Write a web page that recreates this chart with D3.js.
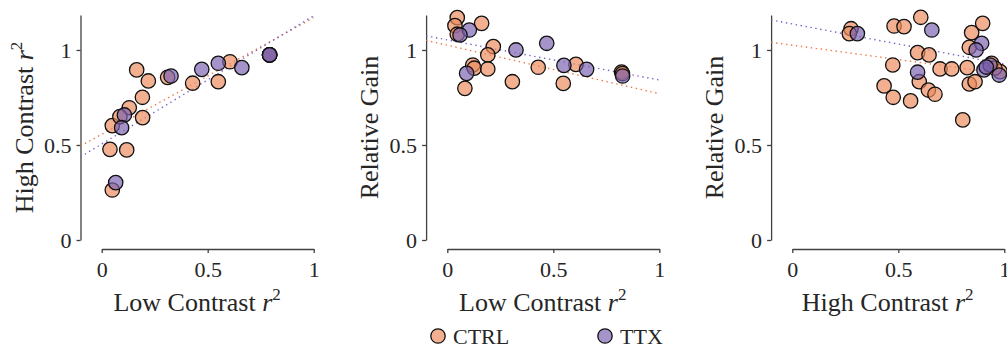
<!DOCTYPE html>
<html>
<head>
<meta charset="utf-8">
<script src="https://cdn.jsdelivr.net/npm/d3@7"></script>
<style>
  body { margin: 0; background: #fff; }
  text { font-family: "Liberation Serif", "Times New Roman", serif; fill: #262626; }
</style>
</head>
<body>
<svg id="fig" width="1007" height="347"></svg>
<script>
// ---- data ----
// panel A: low contrast r^2 (x) vs high contrast r^2 (y)
let aCtrl = [[0.165, 0.895], [0.220, 0.837], [0.192, 0.751], [0.130, 0.696], [0.193, 0.644],
    [0.050, 0.602], [0.039, 0.477], [0.118, 0.474], [0.050, 0.263], [0.311, 0.856],
    [0.429, 0.825], [0.550, 0.833], [0.086, 0.649], [0.605, 0.938], [0.792, 0.974], [0.792, 0.974]];
let aTtx = [[0.327, 0.863], [0.472, 0.898], [0.550, 0.930], [0.107, 0.658], [0.094, 0.591],
    [0.066, 0.302], [0.661, 0.907], [0.792, 0.974], [0.792, 0.974]];

// panel B: low contrast r^2 (x) vs relative gain (y)
let bCtrl = [[0.047, 1.170], [0.036, 1.128], [0.047, 1.083], [0.162, 1.140], [0.217, 1.018],
    [0.191, 0.974], [0.120, 0.921], [0.127, 0.904], [0.191, 0.900], [0.083, 0.798],
    [0.307, 0.833], [0.429, 0.909], [0.607, 0.924], [0.547, 0.824], [0.822, 0.884], [0.826, 0.876]];
let bTtx = [[0.104, 1.105], [0.060, 1.079], [0.324, 1.000], [0.469, 1.035], [0.091, 0.877],
    [0.550, 0.919], [0.657, 0.898], [0.827, 0.863]];

// panel C: high contrast r^2 (x) vs relative gain (y)
let cCtrl = [[0.277, 1.112], [0.269, 1.086], [0.606, 1.172], [0.480, 1.126], [0.527, 1.123],
    [0.591, 0.986], [0.645, 0.974], [0.474, 0.921], [0.433, 0.811], [0.476, 0.751],
    [0.558, 0.732], [0.599, 0.833], [0.642, 0.789], [0.673, 0.767], [0.697, 0.900],
    [0.752, 0.900], [0.825, 0.907], [0.804, 0.632], [0.846, 1.091], [0.898, 1.140],
    [0.835, 1.014], [0.835, 0.821], [0.862, 0.833], [0.940, 0.930], [0.980, 0.886], [0.955, 0.905]];
let cTtx = [[0.307, 1.086], [0.658, 1.105], [0.591, 0.883], [0.893, 1.035], [0.867, 1.000],
    [0.904, 0.895], [0.933, 0.921], [0.976, 0.868], [0.915, 0.910]];

// dotted regression lines, [intercept, slope]
let aFit = { ctrl: [0.556, 0.614], ttx: [0.505, 0.675] };
let bFit = { ctrl: [1.025, -0.255], ttx: [1.053, -0.211] };
let cFit = { ctrl: [1.025, -0.151], ttx: [1.137, -0.212] };

let xTicks = [0, 0.5, 1];
let yTicks = [0, 0.5, 1];
let groups = ['CTRL', 'TTX'];

// ---- layout ----
let svg = d3.select('#fig');
let fill = { CTRL: '#ee8a5c', TTX: '#7a62b0' };
let lineCol = { CTRL: '#f07844', TTX: '#7a62c8' };
let axisCol = '#404040';

let panels = [
    { left: 101.7, ctrl: aCtrl, ttx: aTtx, fit: aFit, xlab: 'Low Contrast ', ylab: 'High Contrast ', ysup: true },
    { left: 447.3, ctrl: bCtrl, ttx: bTtx, fit: bFit, xlab: 'Low Contrast ', ylab: 'Relative Gain', ysup: false },
    { left: 792.3, ctrl: cCtrl, ttx: cTtx, fit: cFit, xlab: 'High Contrast ', ylab: 'Relative Gain', ysup: false }
];

let fmt = d => (d === 0.5 ? '0.5' : String(d));

panels.forEach((p, i) => {
    let x = d3.scaleLinear().domain([-0.1, 1]).range([p.left - 21.2, p.left + 212]);
    let y = d3.scaleLinear().domain([0, 1.184]).range([240, 15]);
    let g = svg.append('g');

    // x axis (only spans 0..1, sits below the plot)
    let xa = x.copy().domain([0, 1]).range([x(0), x(1)]);
    let gx = g.append('g')
        .attr('transform', 'translate(0,249)')
        .call(d3.axisBottom(xa).tickValues(xTicks).tickFormat(fmt).tickSize(4).tickSizeOuter(0));

    let gy = g.append('g')
        .attr('transform', 'translate(' + x(-0.1) + ',0)')
        .call(d3.axisLeft(y).tickValues(yTicks).tickFormat(fmt).tickSize(4).tickSizeOuter(0));

    [gx, gy].forEach(a => {
        a.attr('font-family', '"Liberation Serif", serif').attr('font-size', 22);
        a.select('.domain').attr('stroke', axisCol).attr('stroke-width', 1.3);
        a.selectAll('.tick line').attr('stroke', axisCol).attr('stroke-width', 1.3);
        a.selectAll('.tick text').attr('fill', '#262626');
    });
    gx.selectAll('.tick text').attr('y', 12);
    gy.selectAll('.tick text').attr('x', -9).attr('dy', '0.33em');

    // axis labels
    let xl = g.append('text')
        .attr('x', x(0.45))
        .attr('y', 311)
        .attr('text-anchor', 'middle')
        .style('font-size', '26px')
        .text(p.xlab);
    xl.append('tspan').style('font-style', 'italic').text('r');
    xl.append('tspan').attr('dy', -11).style('font-size', '17px').text('2');

    let yl = g.append('text')
        .attr('transform', 'translate(' + (x(-0.1) - 48) + ',' + y(0.592) + ') rotate(-90)')
        .attr('text-anchor', 'middle')
        .style('font-size', '26px')
        .text(p.ylab);
    if (p.ysup) {
        yl.append('tspan').style('font-style', 'italic').text('r');
        yl.append('tspan').attr('dy', -11).style('font-size', '17px').text('2');
    }

    // regression lines
    let clipId = 'clip' + i;
    svg.append('clipPath').attr('id', clipId)
        .append('rect')
        .attr('x', x(-0.1)).attr('y', y(1.184))
        .attr('width', x(1) - x(-0.1)).attr('height', y(0) - y(1.184));

    let line = d3.line().x(d => x(d[0])).y(d => y(d[1]));
    groups.forEach(k => {
        let c = k === 'CTRL' ? p.fit.ctrl : p.fit.ttx;
        let pts = [-0.1, 1].map(v => [v, c[0] + c[1] * v]);
        g.append('path')
            .datum(pts)
            .attr('clip-path', 'url(#' + clipId + ')')
            .attr('d', line)
            .attr('fill', 'none')
            .attr('stroke', lineCol[k])
            .attr('stroke-width', 1.4)
            .attr('stroke-dasharray', '1.4,3.6');
    });

    // markers: CTRL first, TTX on top
    groups.forEach(k => {
        g.append('g')
            .selectAll('circle')
            .data(k === 'CTRL' ? p.ctrl : p.ttx)
            .enter()
            .append('circle')
            .attr('cx', d => x(d[0]))
            .attr('cy', d => y(d[1]))
            .attr('r', 7.2)
            .attr('fill', fill[k])
            .attr('fill-opacity', 0.68)
            .attr('stroke', '#111')
            .attr('stroke-width', 1.3);
    });
});

// legend
let leg = svg.append('g');
groups.forEach((k, i) => {
    let lx = 438 + i * 167;
    leg.append('circle')
        .attr('cx', lx).attr('cy', 336).attr('r', 7.2)
        .attr('fill', fill[k]).attr('fill-opacity', 0.68)
        .attr('stroke', '#111').attr('stroke-width', 1.3);
    leg.append('text')
        .attr('x', lx + 15).attr('y', 343.5)
        .style('font-size', '22px')
        .text(k);
});
</script>
</body>
</html>
